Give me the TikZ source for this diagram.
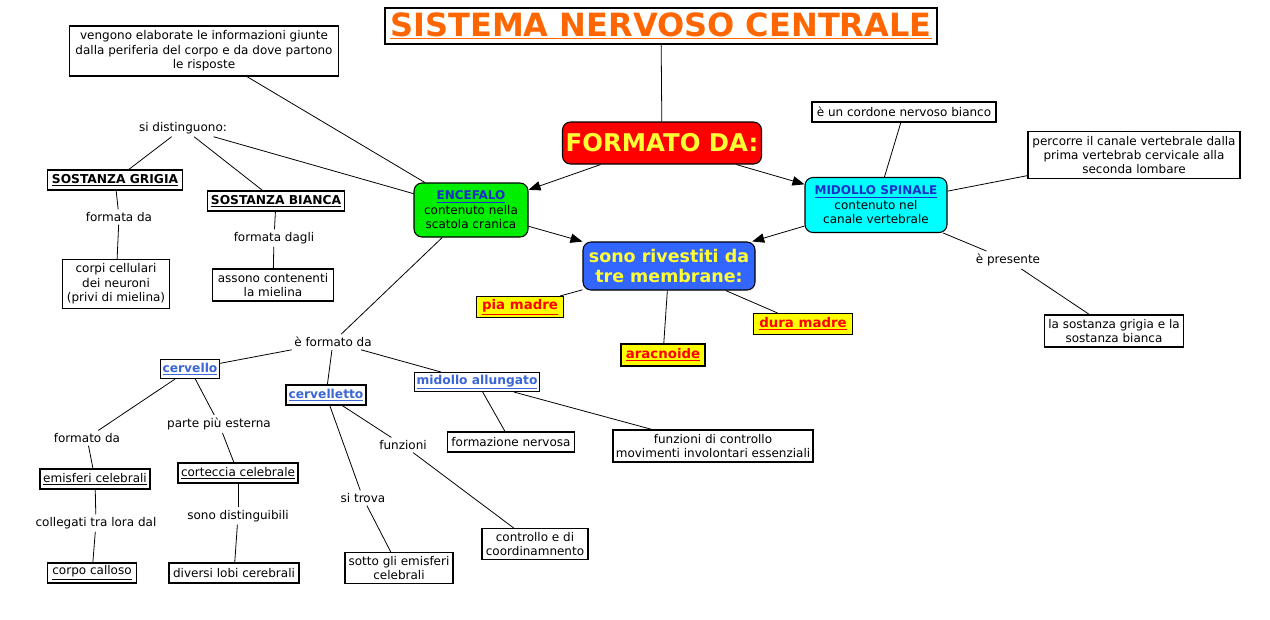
\documentclass[tikz,border=0pt]{standalone}
\usepackage{fontspec}
\setmainfont{DejaVu Sans}
\usetikzlibrary{arrows.meta}
\definecolor{ttl}{HTML}{FF6600}
\definecolor{lnk}{HTML}{3A66D6}
\definecolor{enc}{HTML}{1A30C8}
\definecolor{grn}{HTML}{00EE00}
\definecolor{cyn}{HTML}{00FFFF}
\definecolor{blu}{HTML}{3366FF}
\definecolor{ylw}{HTML}{FFFF33}
\definecolor{yfill}{HTML}{FFFF00}
\definecolor{rd}{HTML}{FF0000}
\newcommand{\myul}[1]{\underline{#1}}
\begin{document}
\begin{tikzpicture}[x=0.75pt,y=-0.75pt,
 box/.style={draw, line width=0.8pt, fill=white, inner sep=1pt, align=center, font=\fontsize{9}{10.8}\selectfont},
 rbox/.style={box, rounded corners=6pt},
 bbox/.style={box, font=\fontsize{9.2}{10.8}\selectfont\bfseries},
 mem/.style={box, fill=yfill, text=rd, font=\fontsize{10}{11}\selectfont\bfseries},
 lab/.style={inner sep=2pt, align=center, font=\fontsize{9}{10.8}\selectfont},
 wh/.style 2 args={minimum width=#1*0.75pt, minimum height=#2*0.75pt},
 con/.style={line width=0.6pt},
 arr/.style={con, -{Triangle[length=9pt,width=7pt]}},
]
\useasboundingbox (0,0) rectangle (1270,619);

% main nodes
\node[box, wh={552}{36}, text=ttl, font=\fontsize{24}{27}\selectfont\bfseries] (title) at (661,26) {\myul{SISTEMA NERVOSO CENTRALE}};
\node[rbox, fill=rd, wh={199}{42}, text=ylw, font=\fontsize{18.3}{21}\selectfont\bfseries] (form) at (662,143) {FORMATO DA:};
\node[rbox, fill=grn, wh={114}{54}] (enc) at (471,210) {\textcolor{enc}{\bfseries\myul{ENCEFALO}}\\contenuto nella\\scatola cranica};
\node[rbox, fill=cyn, wh={142}{55}] (mid) at (876,205) {\textcolor{enc}{\bfseries\myul{MIDOLLO SPINALE}}\\contenuto nel\\canale vertebrale};
\node[rbox, fill=blu, wh={172}{48}, text=ylw, font=\fontsize{13.1}{15.5}\selectfont\bfseries] (riv) at (669,266) {sono rivestiti da\\tre membrane:};

% membranes
\node[mem, wh={87}{21}] (pia) at (520,307) {\myul{pia madre}};
\node[mem, wh={84}{22}] (ara) at (663,355) {\myul{aracnoide}};
\node[mem, wh={99}{21}] (dura) at (803,324) {\myul{dura madre}};

% encefalo branch
\node[box, wh={269}{50}] (veng) at (204,51) {vengono elaborate le informazioni giunte\\dalla periferia del corpo e da dove partono\\le risposte};
\node[lab] (sidist) at (183,128) {si distinguono:};
\node[bbox, wh={135}{20}] (grig) at (115,180) {\myul{SOSTANZA GRIGIA}};
\node[bbox, wh={137}{20}] (bian) at (276,201) {\myul{SOSTANZA BIANCA}};
\node[lab] (fda1) at (119,217) {formata da};
\node[lab] (fdagli) at (274,238) {formata dagli};
\node[box, wh={107}{49}] (corpi) at (116,284) {corpi cellulari\\dei neuroni\\(privi di mielina)};
\node[box, wh={121}{32}] (asso) at (273,285) {assono contenenti\\la mielina};

\node[lab] (efda) at (333,342) {è formato da};
\node[bbox, wh={59}{19}, text=lnk] (cerv) at (190,369) {\myul{cervello}};
\node[bbox, wh={80}{20}, text=lnk] (cervt) at (326,395) {\myul{cervelletto}};
\node[bbox, wh={125}{19}, text=lnk] (mall) at (477,382) {\myul{midollo allungato}};

\node[lab] (fda2) at (87,438) {formato da};
\node[lab] (ppe) at (219,424) {parte più esterna};
\node[box, wh={110}{20}] (emis) at (95,479) {\myul{emisferi celebrali}};
\node[box, wh={120}{20}] (cort) at (238,473) {\myul{corteccia celebrale}};
\node[lab] (coll) at (96,523) {collegati tra lora dal};
\node[lab] (sdis) at (238,516) {sono distinguibili};
\node[box, wh={89}{20}] (callo) at (92,573) {\myul{corpo calloso}};
\node[box, wh={130}{20}] (lobi) at (234,573) {diversi lobi cerebrali};

\node[lab] (funz) at (403,445) {funzioni};
\node[lab] (strova) at (363,498) {si trova};
\node[box, wh={106}{31}] (contr) at (535,544) {controllo e di\\coordinamnento};
\node[box, wh={108}{31}] (sotto) at (399,568) {sotto gli emisferi\\celebrali};
\node[box, wh={127}{20}] (fnerv) at (511,442) {formazione nervosa};
\node[box, wh={200}{32}] (fcontr) at (713,446) {funzioni di controllo\\movimenti involontari essenziali};

% midollo spinale branch
\node[box, wh={184}{20}] (cord) at (904,112) {è un cordone nervoso bianco};
\node[box, wh={212}{47}] (perc) at (1134,155) {percorre il canale vertebrale dalla\\prima vertebrab cervicale alla\\seconda lombare};
\node[lab] (epres) at (1008,260) {è presente};
\node[box, wh={139}{32}] (lasos) at (1114,331) {la sostanza grigia e la\\sostanza bianca};

% connectors
\draw[con] (title) -- (form);
\draw[arr] (form) -- (enc);
\draw[arr] (form) -- (mid);
\draw[arr] (enc) -- (riv);
\draw[arr] (mid) -- (riv);
\draw[con] (riv) -- (pia);
\draw[con] (riv) -- (ara);
\draw[con] (riv) -- (dura);

\draw[con] (veng) -- (enc);
\draw[con] (sidist) -- (enc);
\draw[con] (sidist) -- (grig);
\draw[con] (sidist) -- (bian);
\draw[con] (grig) -- (fda1);
\draw[con] (fda1) -- (corpi);
\draw[con] (bian) -- (fdagli);
\draw[con] (fdagli) -- (asso);

\draw[con] (enc) -- (efda);
\draw[con] (efda) -- (cerv);
\draw[con] (efda) -- (cervt);
\draw[con] (efda) -- (mall);
\draw[con] (cerv) -- (fda2);
\draw[con] (fda2) -- (emis);
\draw[con] (emis) -- (coll);
\draw[con] (coll) -- (callo);
\draw[con] (cerv) -- (ppe);
\draw[con] (ppe) -- (cort);
\draw[con] (cort) -- (sdis);
\draw[con] (sdis) -- (lobi);
\draw[con] (cervt) -- (funz);
\draw[con] (funz) -- (contr);
\draw[con] (cervt) -- (strova);
\draw[con] (strova) -- (sotto);
\draw[con] (mall) -- (fnerv);
\draw[con] (mall) -- (fcontr);

\draw[con] (mid) -- (cord);
\draw[con] (mid) -- (perc);
\draw[con] (mid) -- (epres);
\draw[con] (epres) -- (lasos);
\end{tikzpicture}
\end{document}
